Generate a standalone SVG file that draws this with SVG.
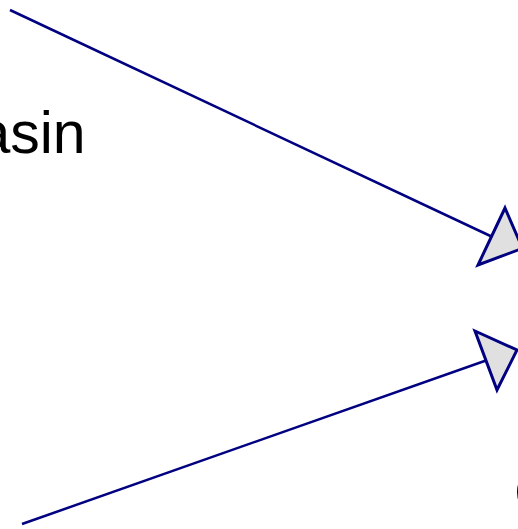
<svg xmlns="http://www.w3.org/2000/svg" width="518" height="529" viewBox="0 0 518 529">
<style>
.edge{stroke:#000080;stroke-width:2.5;fill:none}
.head{stroke:#000080;stroke-width:3;fill:#e0e0e0;stroke-linejoin:miter}
.lbl{font-family:"Liberation Sans",Arial,sans-serif;font-size:59px;fill:#000}
</style>
<rect width="518" height="529" fill="#fff"/>
<g id="node-basin"><text class="lbl" x="-22.6" y="153">asin</text></g>
<g id="node-right"><text class="lbl" x="514" y="512.5">C</text></g>
<g id="connectors">
<line class="edge" x1="10" y1="10" x2="491.5" y2="236.5"/>
<polygon class="head" points="505,208 522.5,248.3 478,265"/>
<line class="edge" x1="22" y1="524" x2="486" y2="360.5"/>
<polygon class="head" points="475,331 517,350 497,390"/>
</g>
</svg>
